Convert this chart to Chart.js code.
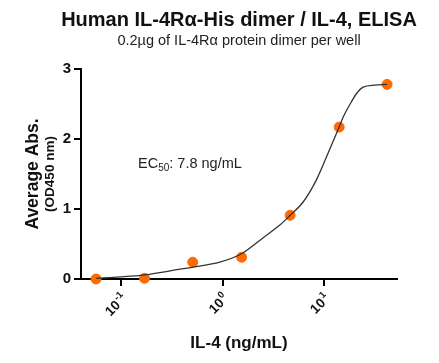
<!DOCTYPE html>
<html>
<head>
<meta charset="utf-8">
<script src="https://cdn.jsdelivr.net/npm/chart.js@4/dist/chart.umd.min.js"></script>
<style>
  html, body { margin: 0; padding: 0; background: #fff; }
  #wrap { width: 439px; height: 363px; }
</style>
</head>
<body>
<div id="wrap"><canvas id="elisaChart" width="439" height="363"></canvas></div>
<script>
// measured points (IL-4 ng/mL vs OD450)
const doseValues = [0.0563, 0.169, 0.505, 1.53, 4.6, 14.0, 41.5];
const absValues = [0, 0.01, 0.24, 0.31, 0.91, 2.17, 2.78];

// fitted curve
const curveX = [0.0565, 0.097, 0.17, 0.38, 0.51, 0.93, 1.53, 2.5, 3.64, 4.6, 6.18, 8.38, 10.9, 14, 15.3, 17.8, 20.8, 24.1, 31.5, 41.5];
const curveY = [0.01, 0.03, 0.06, 0.14, 0.17, 0.24, 0.36, 0.59, 0.77, 0.91, 1.10, 1.42, 1.80, 2.17, 2.31, 2.49, 2.65, 2.74, 2.77, 2.78];

const xTickValues = [0.1, 1, 10];
const xTickExponents = ['-1', '0', '1'];
const yTickValues = [0, 1, 2, 3];

const titleText = 'Human IL-4Rα-His dimer / IL-4, ELISA';
const subtitleText = '0.2µg of IL-4Rα protein dimer per well';

const FONT = '"Liberation Sans", Arial, Helvetica, sans-serif';

// titles, y axis title (two lines, different sizes), x tick labels with exponents, EC50 note
const extraText = {
    id: 'extraText',
    afterDraw(chart) {
        const ctx = chart.ctx;
        const area = chart.chartArea;
        const midY = (area.top + area.bottom) / 2;
        const midX = 239;

        ctx.save();
        ctx.textAlign = 'center';
        ctx.textBaseline = 'middle';
        ctx.fillStyle = '#111';
        ctx.font = 'bold 20px ' + FONT;
        ctx.fillText(titleText, midX, 20);
        ctx.fillStyle = '#222';
        ctx.font = '14.5px ' + FONT;
        ctx.fillText(subtitleText, midX, 41);
        ctx.restore();

        ctx.save();
        ctx.fillStyle = '#111';
        ctx.textAlign = 'center';
        ctx.textBaseline = 'middle';
        ctx.translate(33, midY);
        ctx.rotate(-Math.PI / 2);
        ctx.font = 'bold 17.5px ' + FONT;
        ctx.fillText('Average Abs.', 0, 0);
        ctx.font = 'bold 13.5px ' + FONT;
        ctx.fillText('(OD450 nm)', 0, 17);
        ctx.restore();

        // x tick labels: 10 with superscript exponent, rotated 45deg
        const xScale = chart.scales.x;
        xTickValues.forEach((v, i) => {
            const tx = xScale.getPixelForValue(v);
            ctx.save();
            ctx.fillStyle = '#111';
            ctx.textBaseline = 'middle';
            ctx.textAlign = 'left';
            ctx.translate(tx + 3, area.bottom + 17);
            ctx.rotate(-Math.PI / 4);
            ctx.font = 'bold 9.5px ' + FONT;
            const wExp = ctx.measureText(xTickExponents[i]).width;
            ctx.font = 'bold 13.5px ' + FONT;
            const wBase = ctx.measureText('10').width;
            ctx.fillText('10', -(wBase + wExp + 1), 1);
            ctx.font = 'bold 9.5px ' + FONT;
            ctx.fillText(xTickExponents[i], -wExp, -4);
            ctx.restore();
        });

        ctx.save();
        ctx.fillStyle = '#222';
        ctx.textBaseline = 'alphabetic';
        ctx.textAlign = 'left';
        let x = 138, y = 168;
        ctx.font = '14.5px ' + FONT;
        ctx.fillText('EC', x, y);
        x += ctx.measureText('EC').width;
        ctx.font = '10px ' + FONT;
        ctx.fillText('50', x, y + 3);
        x += ctx.measureText('50').width;
        ctx.font = '14.5px ' + FONT;
        ctx.fillText(': 7.8 ng/mL', x, y);
        ctx.restore();
    }
};

const ctx = document.getElementById('elisaChart').getContext('2d');
new Chart(ctx, {
    type: 'scatter',
    data: {
        datasets: [
            {
                label: 'fit',
                data: curveX.map((x, i) => ({ x: x, y: curveY[i] })),
                showLine: true,
                borderColor: '#333',
                borderWidth: 1.3,
                pointRadius: 0,
                cubicInterpolationMode: 'monotone',
                clip: false
            },
            {
                label: 'IL-4',
                data: doseValues.map((x, i) => ({ x: x, y: absValues[i] })),
                backgroundColor: '#FF6A00',
                borderColor: '#FF6A00',
                pointRadius: 5,
                clip: false
            }
        ]
    },
    options: {
        responsive: false,
        animation: false,
        layout: { padding: { left: 0, right: 42, top: 69, bottom: 0 } },
        plugins: {
            legend: { display: false },
            tooltip: { enabled: false }
        },
        scales: {
            x: {
                type: 'logarithmic',
                min: 0.04,
                max: 52,
                afterBuildTicks: (axis) => { axis.ticks = xTickValues.map(v => ({ value: v })); },
                afterFit: (axis) => { axis.height = 84; },
                ticks: {
                    callback: () => ''
                },
                grid: { drawOnChartArea: false, drawTicks: true, tickLength: 7, color: '#000', lineWidth: 2 },
                border: { color: '#000', width: 2 },
                title: {
                    display: true,
                    text: 'IL-4 (ng/mL)',
                    color: '#111',
                    font: { family: FONT, size: 17, weight: 'bold' },
                    padding: { top: 0, bottom: 9 }
                }
            },
            y: {
                min: 0,
                max: 3,
                afterBuildTicks: (axis) => { axis.ticks = yTickValues.map(v => ({ value: v })); },
                afterFit: (axis) => { axis.width = 81; },
                ticks: {
                    color: '#111',
                    font: { family: FONT, size: 15, weight: 'bold' },
                    padding: 3
                },
                grid: { drawOnChartArea: false, drawTicks: true, tickLength: 7, color: '#000', lineWidth: 2 },
                border: { color: '#000', width: 2 }
            }
        }
    },
    plugins: [extraText]
});
</script>
</body>
</html>
